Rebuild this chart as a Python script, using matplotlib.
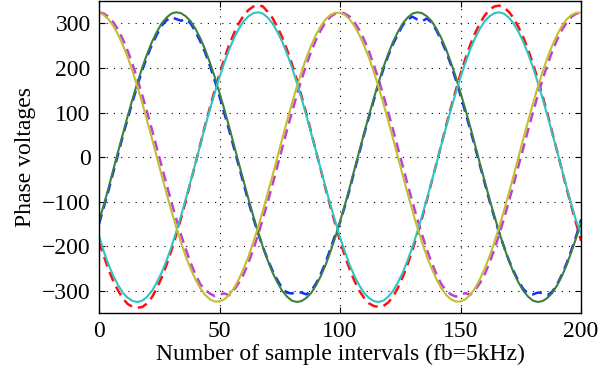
import matplotlib
matplotlib.use("Agg")
import matplotlib.pyplot as plt

# sample index (every 2 sample intervals)
x = list(range(0, 201, 2))

# solid reference phase voltages
green = [-144, -107, -68, -27, 14, 54, 94, 132, 168, 202, 232, 259, 281, 300, 313, 322, 325, 323, 316, 305,
         288, 267, 242, 212, 180, 144, 107, 68, 27, -14, -54, -94, -132, -168, -202, -232, -259, -281, -300, -313,
         -322, -325, -323, -316, -305, -288, -267, -242, -212, -180,
         -144, -107, -68, -27, 14, 54, 94, 132, 168, 202, 232, 259, 281, 300, 313, 322, 325, 323, 316, 305,
         288, 267, 242, 212, 180, 144, 107, 68, 27, -14, -54, -94, -132, -168, -202, -232, -259, -281, -300, -313,
         -322, -325, -323, -316, -305, -288, -267, -242, -212, -180, -148]
cyan = [-176, -212, -242, -267, -288, -305, -316, -323, -325, -322, -313, -300, -281, -259, -232, -202, -168, -132, -94, -54,
        -14, 27, 68, 107, 144, 180, 212, 242, 267, 288, 305, 316, 323, 325, 322, 313, 300, 281, 259, 232,
        202, 168, 132, 94, 54, 14, -27, -68, -107, -144,
        -180, -212, -242, -267, -288, -305, -316, -323, -325, -322, -313, -300, -281, -259, -232, -202, -168, -132, -94, -54,
        -14, 27, 68, 107, 144, 180, 212, 242, 267, 288, 305, 316, 323, 325, 322, 313, 300, 281, 259, 232,
        202, 168, 132, 94, 54, 14, -27, -68, -107, -144, -172]
yellow = [324, 319, 309, 294, 274, 250, 223, 191, 157, 120, 81, 41, 0, -41, -81, -120, -157, -191, -223, -250,
          -274, -294, -309, -319, -324, -324, -319, -309, -294, -274, -250, -223, -191, -157, -120, -81, -41, 0, 41, 81,
          120, 157, 191, 223, 250, 274, 294, 309, 319, 324,
          324, 319, 309, 294, 274, 250, 223, 191, 157, 120, 81, 41, 0, -41, -81, -120, -157, -191, -223, -250,
          -274, -294, -309, -319, -324, -324, -319, -309, -294, -274, -250, -223, -191, -157, -120, -81, -41, 0, 41, 81,
          120, 157, 191, 223, 250, 274, 294, 309, 319, 324, 324]

# dashed (actual) phase voltages
blue = [-150, -112, -74, -32, 8, 50, 88, 126, 162, 196, 226, 253, 275, 295, 307, 314, 310, 306, 310, 300,
        282, 260, 235, 205, 172, 136, 98, 60, 20, -20, -60, -100, -137, -171, -202, -230, -255, -276, -294, -304,
        -306, -302, -304, -308, -300, -284, -262, -236, -206, -174,
        -146, -110, -72, -30, 10, 52, 90, 128, 164, 198, 228, 254, 276, 296, 309, 315, 309, 305, 311, 302,
        284, 262, 237, 207, 174, 138, 100, 62, 22, -18, -58, -98, -135, -170, -201, -231, -256, -278, -296, -306,
        -308, -304, -305, -310, -302, -286, -264, -238, -208, -176, -140]
red = [-190, -222, -253, -279, -300, -318, -330, -336, -338, -336, -328, -314, -294, -270, -242, -210, -175, -138, -98, -56,
       -15, 28, 71, 111, 150, 187, 221, 252, 278, 300, 318, 330, 338, 341, 338, 326, 312, 292, 269, 241,
       210, 175, 137, 98, 56, 14, -28, -71, -111, -150,
       -188, -222, -252, -278, -300, -316, -328, -334, -336, -334, -326, -313, -293, -269, -241, -209, -174, -137, -97, -55,
       -14, 28, 71, 111, 150, 187, 221, 252, 278, 300, 318, 331, 338, 340, 336, 326, 312, 292, 269, 241,
       210, 175, 137, 98, 56, 14, -28, -71, -111, -150, -188]
magenta = [325, 322, 315, 302, 285, 263, 237, 207, 174, 138, 100, 61, 20, -20, -61, -100, -138, -174, -207, -237,
           -263, -285, -298, -306, -312, -308, -306, -310, -298, -282, -263, -237, -207, -174, -138, -100, -61, -20, 20, 61,
           100, 138, 174, 207, 237, 263, 285, 302, 315, 322,
           325, 322, 315, 302, 285, 263, 237, 207, 174, 138, 100, 61, 20, -20, -61, -100, -138, -174, -207, -237,
           -263, -285, -299, -308, -313, -309, -305, -309, -298, -283, -263, -237, -207, -174, -138, -100, -61, -20, 20, 61,
           100, 138, 174, 207, 237, 263, 285, 302, 315, 322, 324]

xticks = [0, 50, 100, 150, 200]
yticks = [-300, -200, -100, 0, 100, 200, 300]

plt.rcParams['font.family'] = ['Liberation Serif', 'DejaVu Serif']
plt.rcParams['axes.unicode_minus'] = True

fig = plt.figure(figsize=(6.13, 3.80), dpi=100)
ax = fig.add_axes([0.1615, 0.176, 0.7865, 0.821])

dash = (0, (4, 2.4))
ax.plot(x, blue, color='#1030ff', lw=1.8, linestyle=dash)
ax.plot(x, red, color='#ff1010', lw=1.8, linestyle=dash)
ax.plot(x, magenta, color='#c040d0', lw=1.8, linestyle=dash)
ax.plot(x, green, color='#3f7f3f', lw=1.5)
ax.plot(x, cyan, color='#2ec4c4', lw=1.5)
ax.plot(x, yellow, color='#c0c030', lw=1.5)

ax.set_xlim(0, 200)
ax.set_ylim(-350, 350)
ax.set_xticks(xticks)
ax.set_yticks(yticks)
ax.grid(True, color='black', linestyle=(0, (1, 5.5)), linewidth=0.8)
ax.tick_params(direction='in', top=True, right=True, labelsize=17, length=4,
               width=0.8, pad=6)
for s in ax.spines.values():
    s.set_linewidth(1.0)
ax.set_xlabel('Number of sample intervals (fb=5kHz)', fontsize=17, labelpad=1)
ax.set_ylabel('Phase voltages', fontsize=17, labelpad=4)

fig.savefig('out.png', dpi=100)
